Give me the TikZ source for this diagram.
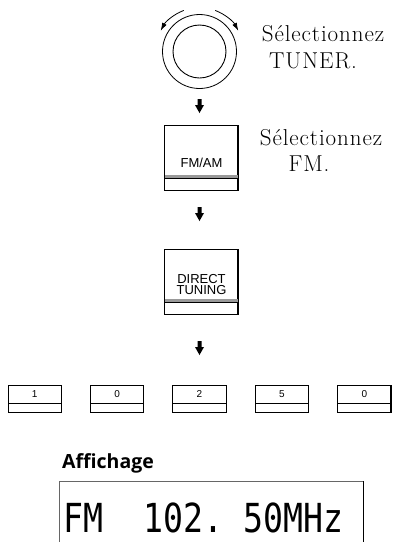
\documentclass[tikz,border=0pt]{standalone}
\usepackage{fontspec}
\usetikzlibrary{arrows.meta}
\newfontfamily\keyfont{Liberation Sans}
\newfontfamily\headfont{Open Sans}
\newfontfamily\lcdfont{DejaVu Sans Mono}
\newfontfamily\selfont[LetterSpace=4]{Latin Modern Roman}
\newcommand\dnarr[1]{\fill (#1) ++(-2,0) -- ++(4,0) -- ++(0,-6) -- ++(2.5,0) -- ++(-4.5,-8) -- ++(-4.5,8) -- ++(2.5,0) -- cycle;}
\newcommand\btnparts[2]{%
  \draw[line width=0.7pt] (#1.north west) rectangle (#1.south east);
  \draw[line width=1.5pt] (#1.north east) -- (#1.south east) -- (#1.south west);
  \fill[black!40] ([yshift=#2pt]#1.south west) rectangle ([yshift=#2pt+3pt]#1.south east);
  \draw[line width=0.7pt] ([yshift=#2pt]#1.south west) -- ([yshift=#2pt]#1.south east);}
\begin{document}
\begin{tikzpicture}[x=1pt,y=1pt,
  seltext/.style={font=\selfont\fontsize{23}{26}\selectfont,inner sep=0},
  btn/.style={minimum width=73pt,minimum height=65pt,inner sep=0},
  keybox/.style={minimum width=53pt,minimum height=27pt,inner sep=0},
  btntext/.style={font=\keyfont\fontsize{13}{14}\selectfont,inner sep=0,align=center},
  keytext/.style={font=\keyfont\fontsize{10}{11}\selectfont,inner sep=0},
  rotarrow/.style={line width=0.8pt,-{Latex[length=8pt,width=5pt]}}]
\useasboundingbox (0,0) rectangle (392,-542);
% knob
\coordinate (knob) at (199.5,-51.5);
\node[circle,draw,line width=0.9pt,minimum size=53pt,inner sep=0] (knobin) at (knob) {};
\node[circle,draw,line width=0.8pt,minimum size=74pt,inner sep=0] (knobout) at (knob) {};
\draw[rotarrow] (knob) ++(111:44) arc[start angle=111,end angle=152,radius=44];
\draw[rotarrow] (knob) ++(69:44) arc[start angle=69,end angle=28,radius=44];
\node[seltext,anchor=base] (t1) at (323,-41) {Sélectionnez};
\node[seltext,anchor=base] (t2) at (313,-68) {TUNER.};
% arrow 1
\coordinate (a1) at (199.5,-99);
\dnarr{a1}
% FM/AM
\node[btn,anchor=north] (fmam) at (201.5,-125) {};
\btnparts{fmam}{12}
\node[btntext] (fmamt) at ([yshift=-5pt]fmam.center) {FM/AM};
\node[seltext,anchor=base] (t3) at (321,-145) {Sélectionnez};
\node[seltext,anchor=base] (t4) at (309,-171) {FM.};
% arrow 2
\coordinate (a2) at (199.5,-207);
\dnarr{a2}
% DIRECT TUNING
\node[btn,anchor=north] (dt) at (201.5,-249) {};
\btnparts{dt}{12}
\node[btntext] (dtt) at ([yshift=-3pt]dt.center) {DIRECT\\[-2.5pt]TUNING};
% arrow 3
\coordinate (a3) at (199.5,-341);
\dnarr{a3}
% number keys
\foreach \i/\d in {0/1,1/0,2/2,3/5,4/0}{
  \node[keybox,anchor=north west] (k\i) at (8+82.4*\i,-385) {};
  \draw[line width=0.7pt] (k\i.north west) rectangle (k\i.south east);
  \draw[line width=1.2pt] (k\i.north east) -- (k\i.south east) -- (k\i.south west);
  \draw[line width=0.7pt] ([yshift=9pt]k\i.south west) -- ([yshift=9pt]k\i.south east);
  \node[keytext] (kt\i) at ([yshift=-9pt]k\i.north) {\d};
}
% display
\node[font=\headfont\bfseries\fontsize{19.5}{22}\selectfont,anchor=base west,inner sep=0] (aff) at (62,-468) {Affichage};
\coordinate (dbl) at (59,-542);
\coordinate (dtl) at (59,-481);
\coordinate (dtr) at (363,-481);
\coordinate (dbr) at (363,-542);
\draw[line width=1pt,black!60] (dbl) -- (dtl) -- (dtr);
\draw[line width=1pt] (dtr) -- (dbr);
\node[anchor=base west,inner sep=0] (lcd) at (63.5,-532) {\scalebox{0.83}[1]{\lcdfont\fontsize{40}{40}\selectfont FM\ \ 102.\ 50MHz}};
\end{tikzpicture}
\end{document}
